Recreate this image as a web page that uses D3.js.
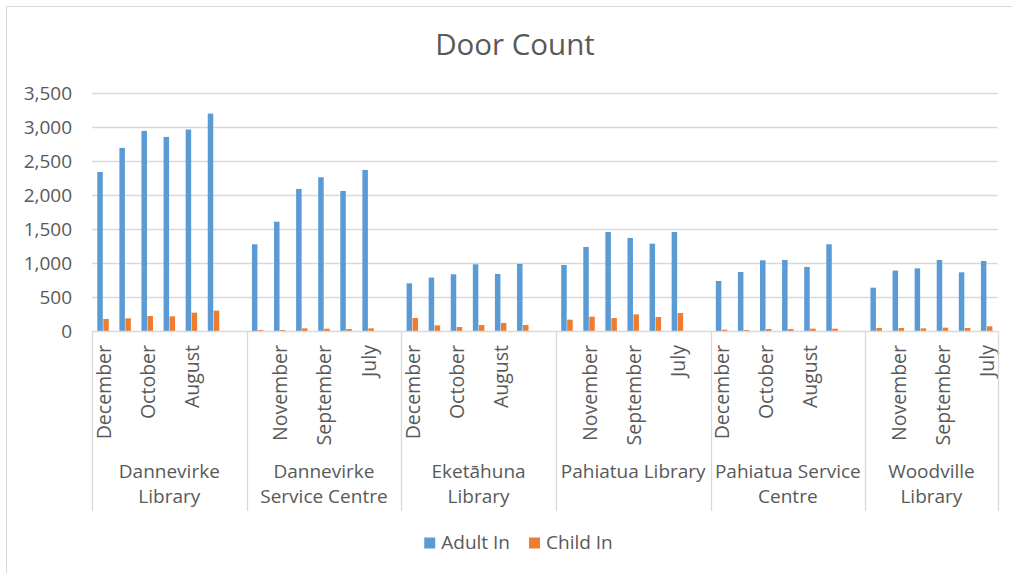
<!DOCTYPE html>
<html>
<head>
<meta charset="utf-8">
<script src="https://cdn.jsdelivr.net/npm/d3@7"></script>
<style>
  html, body { margin: 0; padding: 0; background: #fff; }
  svg { display: block; }
  text { font-family: "Open Sans", "Noto Sans", sans-serif; fill: #595959; }
</style>
</head>
<body>
<svg id="chart" width="1012" height="573"></svg>
<script>
// ---- data ----
const title = "Door Count";
const locations = ["Dannevirke Library", "Dannevirke Service Centre", "Eketāhuna Library", "Pahiatua Library", "Pahiatua Service Centre", "Woodville Library"];
const months = ["December", "November", "October", "September", "August", "July"];
const seriesNames = ["Adult In", "Child In"];
const adultIn = [
  [2342, 2696, 2946, 2858, 2966, 3201],
  [1277, 1610, 2092, 2264, 2062, 2372],
  [702, 786, 835, 982, 840, 987],
  [972, 1237, 1458, 1370, 1286, 1458],
  [736, 869, 1041, 1046, 943, 1277],
  [638, 889, 923, 1046, 864, 1031]
];
const childIn = [
  [177, 187, 221, 216, 270, 300],
  [15, 15, 39, 34, 29, 39],
  [191, 83, 59, 88, 118, 88],
  [167, 211, 191, 245, 206, 265],
  [20, 15, 29, 29, 34, 34],
  [44, 44, 39, 49, 44, 69]
];
const yTicks = [0, 500, 1000, 1500, 2000, 2500, 3000, 3500];
const colors = ["#5B9BD5", "#ED7D31"];

// ---- layout ----
const svg = d3.select("#chart");
const plot = { left: 92, right: 997.7, top: 93.3, bottom: 331 };
const textColor = "#595959";
const gridColor = "#d9d9d9";
const fs = "19px";

// outer chart border
svg.append("rect").attr("x", 6.5).attr("y", 6.5).attr("width", 1016).attr("height", 576)
  .attr("fill", "none").attr("stroke", gridColor).attr("stroke-width", 1);

// flat slot keys (each group followed by an empty spacer slot except the last)
const slots = [];
locations.forEach((loc, gi) => {
  months.forEach((m, mi) => slots.push({ key: gi + "|" + mi, gi, mi, month: m }));
  if (gi < locations.length - 1) slots.push({ key: gi + "|sp", gi, mi: -1, month: "" });
});

const x = d3.scaleBand().domain(slots.map(s => s.key)).range([plot.left, plot.right]).padding(0);
const bw = x.bandwidth();
const xs = d3.scaleBand().domain(seriesNames).range([bw * 0.24, bw * 0.76]).paddingInner(0.08);
const y = d3.scaleLinear().domain([0, 3500]).range([plot.bottom, plot.top]);

// gridlines
svg.append("g").selectAll("line").data(yTicks.filter(t => t > 0)).join("line")
  .attr("x1", plot.left).attr("x2", plot.right)
  .attr("y1", d => Math.round(y(d)) + 0.5).attr("y2", d => Math.round(y(d)) + 0.5)
  .attr("stroke", gridColor).attr("stroke-width", 1.3);

// y axis labels
const yAxis = d3.axisLeft(y).tickValues(yTicks).tickFormat(d3.format(",")).tickSize(0).tickPadding(20);
const yg = svg.append("g").attr("transform", `translate(${plot.left},0)`).call(yAxis);
yg.select(".domain").remove();
yg.selectAll("text").attr("font-size", fs).attr("fill", textColor)
  .style("font-family", '"Open Sans", sans-serif');

// bars
const barData = [];
locations.forEach((loc, gi) => months.forEach((m, mi) => {
  barData.push({ key: gi + "|" + mi, s: seriesNames[0], v: adultIn[gi][mi] });
  barData.push({ key: gi + "|" + mi, s: seriesNames[1], v: childIn[gi][mi] });
}));
svg.append("g").selectAll("rect").data(barData).join("rect")
  .attr("x", d => x(d.key) + xs(d.s))
  .attr("width", xs.bandwidth())
  .attr("y", d => y(d.v))
  .attr("height", d => y(0) - y(d.v))
  .attr("fill", d => colors[seriesNames.indexOf(d.s)]);

// baseline
svg.append("line").attr("x1", plot.left).attr("x2", plot.right)
  .attr("y1", plot.bottom + 0.5).attr("y2", plot.bottom + 0.5)
  .attr("stroke", gridColor).attr("stroke-width", 1.3);

// month labels (every other category, Excel-style)
svg.append("g").selectAll("text").data(slots.filter((s, i) => i % 2 === 0 && s.month)).join("text")
  .attr("transform", d => `translate(${x(d.key) + bw / 2},345) rotate(-90)`)
  .attr("text-anchor", "end").attr("dominant-baseline", "central")
  .attr("font-size", "19.5px").attr("fill", textColor)
  .text(d => d.month);

// group dividers
const groupBounds = locations.map((loc, gi) => {
  const first = x(gi + "|0");
  const lastKey = gi < locations.length - 1 ? gi + "|sp" : gi + "|" + (months.length - 1);
  return { loc, x0: first, x1: x(lastKey) + bw };
});
const divX = [plot.left].concat(groupBounds.map(g => g.x1));
svg.append("g").selectAll("line").data(divX).join("line")
  .attr("x1", d => Math.round(d) + 0.5).attr("x2", d => Math.round(d) + 0.5)
  .attr("y1", plot.bottom).attr("y2", 511)
  .attr("stroke", gridColor).attr("stroke-width", 1.3);

// group labels with wrapping
const gl = svg.append("g");
groupBounds.forEach(g => {
  const cx = (g.x0 + g.x1) / 2;
  const maxW = g.x1 - g.x0 - 4;
  const words = g.loc.split(" ");
  const lines = [];
  let cur = [];
  const probe = gl.append("text").attr("font-size", fs);
  words.forEach(w => {
    const test = cur.concat([w]).join(" ");
    probe.text(test);
    if (probe.node().getComputedTextLength() > maxW && cur.length) {
      lines.push(cur.join(" "));
      cur = [w];
    } else cur.push(w);
  });
  lines.push(cur.join(" "));
  probe.remove();
  lines.forEach((ln, i) => {
    gl.append("text").attr("x", cx).attr("y", 478 + i * 25)
      .attr("text-anchor", "middle").attr("font-size", fs).attr("fill", textColor)
      .text(ln);
  });
});

// title
svg.append("text").attr("x", 515).attr("y", 54.5).attr("text-anchor", "middle")
  .attr("font-size", "29.5px").attr("fill", textColor).text(title);

// legend
const lg = svg.append("g");
const items = seriesNames.map((s, i) => {
  const g = lg.append("g");
  g.append("rect").attr("x", 0).attr("y", -11).attr("width", 11).attr("height", 11).attr("fill", colors[i]);
  const t = g.append("text").attr("x", 17).attr("y", 0).attr("font-size", fs).attr("fill", textColor).text(s);
  return { g, w: 17 + t.node().getComputedTextLength() };
});
const gap = 19;
const totalW = d3.sum(items, d => d.w) + gap * (items.length - 1);
let lx = 518.5 - totalW / 2;
items.forEach(it => { it.g.attr("transform", `translate(${lx},548.5)`); lx += it.w + gap; });
</script>
</body>
</html>
